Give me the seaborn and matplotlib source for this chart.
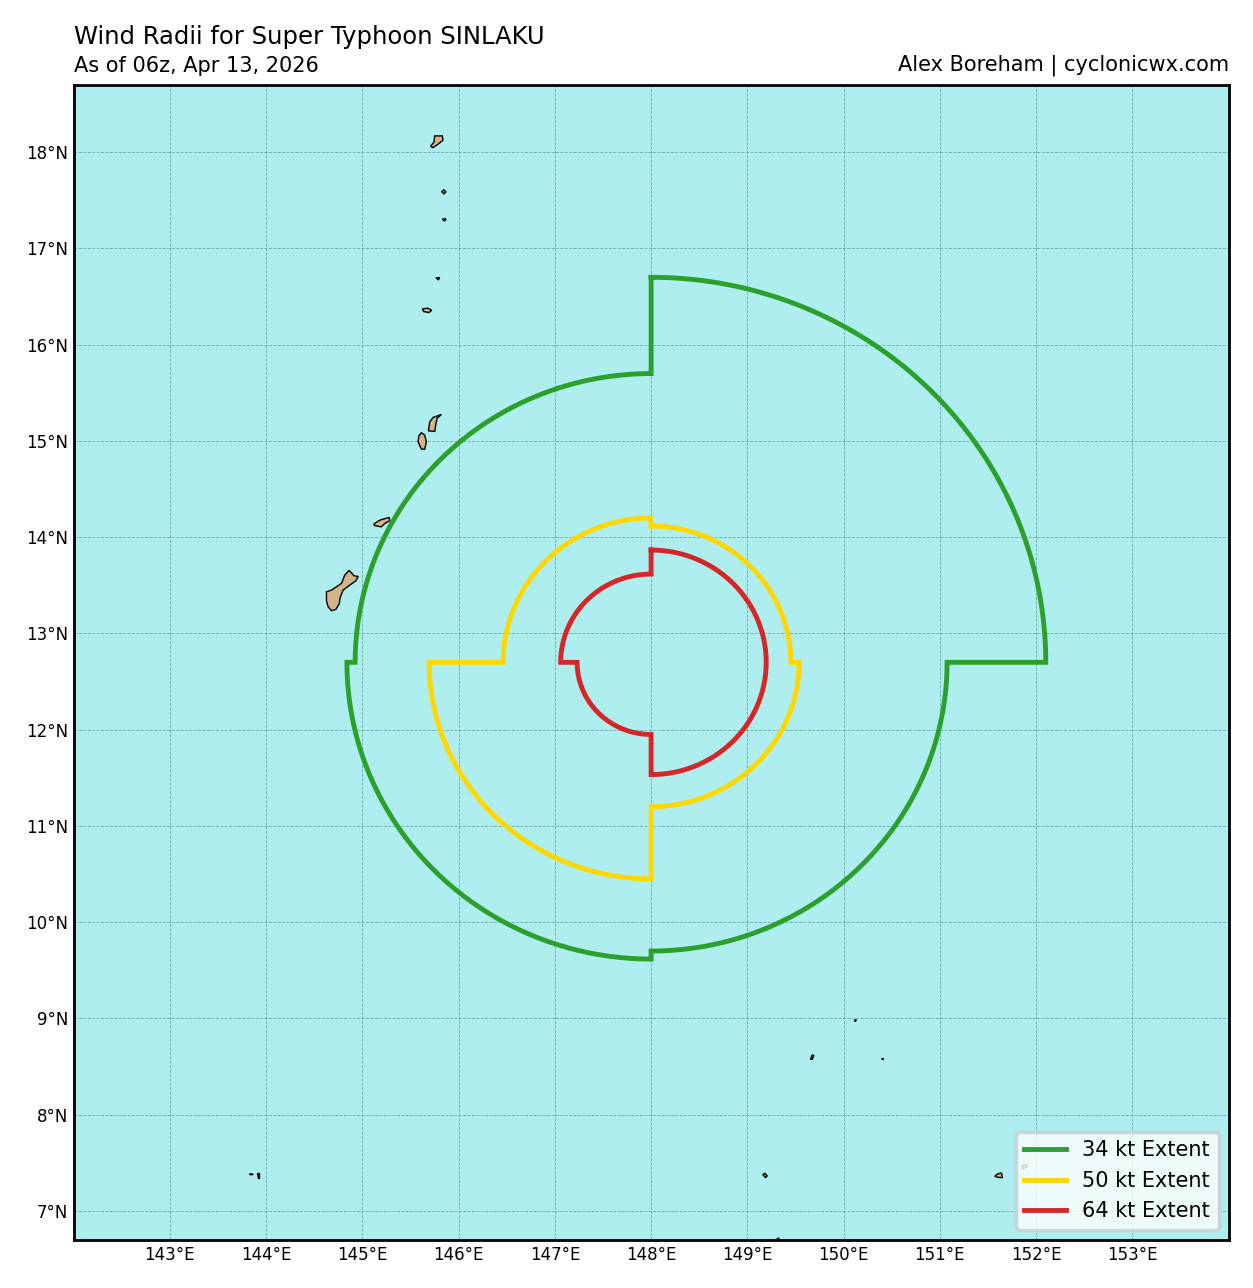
"""Wind radii map for Super Typhoon SINLAKU, redrawn with seaborn."""

import matplotlib
matplotlib.use("Agg")
import matplotlib.pyplot as plt
import numpy as np
import pandas as pd
import seaborn as sns

# storm centre and radii (nm) per quadrant
CENTER_LON = 148.0
CENTER_LAT = 12.7
THRESHOLDS = ["34 kt Extent", "50 kt Extent", "64 kt Extent"]
RADII_NE = [240, 85, 70]
RADII_SE = [180, 90, 70]
RADII_SW = [185, 135, 45]
RADII_NW = [180, 90, 55]
COLORS = ["#2ca02c", "#ffd700", "#d62728"]

LON_TICKS = [143, 144, 145, 146, 147, 148, 149, 150, 151, 152, 153]
LAT_TICKS = [7, 8, 9, 10, 11, 12, 13, 14, 15, 16, 17, 18]

# island outlines, lon/lat pairs
GUAM = [(144.862, 13.655), (144.893, 13.623), (144.914, 13.599), (144.956, 13.592),
        (144.932, 13.547), (144.869, 13.502), (144.800, 13.450), (144.772, 13.381),
        (144.758, 13.305), (144.724, 13.249), (144.679, 13.236), (144.644, 13.277),
        (144.627, 13.340), (144.627, 13.433), (144.679, 13.450), (144.783, 13.520),
        (144.817, 13.606)]
ROTA = [(145.118, 14.136), (145.181, 14.177), (145.278, 14.205), (145.285, 14.171),
        (145.233, 14.143), (145.198, 14.108), (145.129, 14.119)]
TINIAN = [(145.613, 15.085), (145.648, 15.060), (145.665, 14.991), (145.648, 14.915),
          (145.613, 14.915), (145.579, 14.991), (145.586, 15.050)]
SAIPAN = [(145.821, 15.275), (145.776, 15.234), (145.762, 15.164), (145.752, 15.099),
          (145.686, 15.105), (145.700, 15.199), (145.735, 15.244)]
PAGAN = [(145.751, 18.169), (145.831, 18.169), (145.838, 18.124), (145.786, 18.083),
         (145.734, 18.048), (145.710, 18.062), (145.745, 18.107)]
ALAMAGAN = [(145.824, 17.588), (145.845, 17.608), (145.869, 17.588), (145.848, 17.567)]
GUGUAN = [(145.831, 17.304), (145.859, 17.311), (145.869, 17.297), (145.852, 17.286)]
SARIGAN = [(145.765, 16.694), (145.803, 16.698), (145.790, 16.673)]
ANATAHAN = [(145.623, 16.372), (145.682, 16.379), (145.720, 16.358),
            (145.693, 16.334), (145.637, 16.344)]
PULUWAT = [(149.656, 8.576), (149.674, 8.621), (149.691, 8.614), (149.674, 8.576)]
SATAWAL = [(149.161, 7.377), (149.182, 7.391), (149.206, 7.364), (149.189, 7.346)]
CHUUK = [(151.570, 7.360), (151.600, 7.385), (151.640, 7.395), (151.650, 7.345),
         (151.600, 7.350)]
KUOP = [(151.855, 7.470), (151.905, 7.480), (151.900, 7.455), (151.860, 7.440)]
TINY_A = [(150.110, 8.975), (150.130, 8.990), (150.125, 8.970)]
TINY_B = [(150.395, 8.580), (150.415, 8.585), (150.410, 8.575)]
TINY_C = [(149.305, 6.705), (149.325, 6.720), (149.330, 6.705)]
TINY_D = [(143.825, 7.380), (143.860, 7.385), (143.860, 7.375)]
TINY_E = [(143.905, 7.390), (143.925, 7.390), (143.925, 7.345), (143.915, 7.345)]
ISLANDS = [GUAM, ROTA, TINIAN, SAIPAN, PAGAN, ALAMAGAN, GUGUAN, SARIGAN, ANATAHAN,
           PULUWAT, SATAWAL, CHUUK, KUOP, TINY_A, TINY_B, TINY_C, TINY_D, TINY_E]


def radii_outline(ne, se, sw, nw):
    # walk clockwise from north, one quarter circle per quadrant
    lons, lats = [], []
    quadrants = [(ne, 0), (se, 90), (sw, 180), (nw, 270)]
    for radius, start in quadrants:
        bearing = np.radians(np.arange(start, start + 91, 1))
        deg = radius / 60.0
        lons.extend(CENTER_LON + deg * np.sin(bearing) / np.cos(np.radians(CENTER_LAT)))
        lats.extend(CENTER_LAT + deg * np.cos(bearing))
    lons.append(lons[0])
    lats.append(lats[0])
    return lons, lats


def build_frame():
    frames = []
    for i, name in enumerate(THRESHOLDS):
        lons, lats = radii_outline(RADII_NE[i], RADII_SE[i], RADII_SW[i], RADII_NW[i])
        frames.append(pd.DataFrame({"lon": lons, "lat": lats, "extent": name}))
    return pd.concat(frames, ignore_index=True)


sns.set_theme(style="white")
plt.rcParams["font.family"] = ["DejaVu Sans"]
plt.rcParams["text.color"] = "black"
plt.rcParams["lines.solid_joinstyle"] = "miter"
plt.rcParams["lines.solid_capstyle"] = "projecting"

fig = plt.figure(figsize=(12.53, 12.88), dpi=100)
ax = fig.add_axes([74 / 1253, 48 / 1288, 1155 / 1253, 1155 / 1288])
ax.set_facecolor("#afeeee")

for outline in ISLANDS:
    xs, ys = zip(*outline)
    ax.fill(xs, ys, facecolor="#d2b48c", edgecolor="black", linewidth=1.0, zorder=2)

sns.lineplot(data=build_frame(), x="lon", y="lat", hue="extent", hue_order=THRESHOLDS,
             palette=COLORS, sort=False, estimator=None, linewidth=3.5, ax=ax, zorder=3)

ax.set_xlim(142.004, 154.004)
ax.set_ylim(6.698, 18.698)
ax.set_xticks(LON_TICKS)
ax.set_xticklabels([f"{v}°E" for v in LON_TICKS])
ax.set_yticks(LAT_TICKS)
ax.set_yticklabels([f"{v}°N" for v in LAT_TICKS])
ax.tick_params(axis="both", length=0, labelsize=12, colors="black")
ax.tick_params(axis="x", pad=4)
ax.tick_params(axis="y", pad=4.2)
ax.set_xlabel("")
ax.set_ylabel("")
ax.grid(True, color="#4f8f8f", linestyle="--", linewidth=0.6, alpha=0.7)
ax.set_axisbelow(True)
for spine in ax.spines.values():
    spine.set_linewidth(2)
    spine.set_color("black")

handles, labels = ax.get_legend_handles_labels()
legend = ax.legend(handles, labels, loc="lower right", fontsize=15, frameon=True, framealpha=0.8,
                   edgecolor="#cccccc", facecolor="white")
legend.get_frame().set_linewidth(2.5)

fig.text(74 / 1253, 1 - 44 / 1288, "Wind Radii for Super Typhoon SINLAKU", fontsize=17.5,
         color="black", ha="left", va="baseline")
fig.text(74 / 1253, 1 - 72 / 1288, "As of 06z, Apr 13, 2026", fontsize=15,
         color="black", ha="left", va="baseline")
fig.text(1229 / 1253, 1 - 71 / 1288, "Alex Boreham | cyclonicwx.com", fontsize=15,
         color="black", ha="right", va="baseline")

fig.savefig("out.png", dpi=100)
